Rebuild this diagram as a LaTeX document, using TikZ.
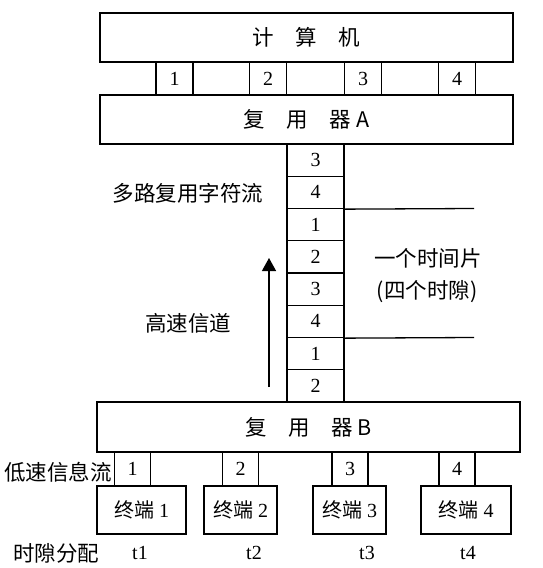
\documentclass[tikz,border=0pt]{standalone}
\usepackage{fontspec}
\setmainfont{Liberation Serif}
\newfontfamily\cjk{Noto Sans CJK SC}
\usetikzlibrary{arrows.meta}
\tikzset{
  box/.style={draw=black, line width=1.3pt, align=center, inner sep=0pt, font=\fontsize{20}{24}\selectfont},
  bigbox/.style={box, font=\cjk\fontsize{21.5}{24}\selectfont},
  slot/.style={draw=black, line width=1.3pt, inner sep=0pt, minimum width=37pt, minimum height=33pt, font=\fontsize{20}{24}\selectfont},
  cell/.style={draw=black, line width=1.3pt, inner sep=0pt, minimum width=57pt, minimum height=32.25pt, font=\fontsize{20}{24}\selectfont},
  lbl/.style={inner sep=0pt, font=\cjk\fontsize{21.5}{24}\selectfont},
  tlbl/.style={inner sep=0pt, font=\fontsize{20}{24}\selectfont},
  arrow/.style={-{Triangle[length=13pt,width=14pt]}, line width=1.3pt},
  rule/.style={line width=1.3pt}
}
\begin{document}
\begin{tikzpicture}[x=1pt,y=-1pt]
\useasboundingbox (0,0) rectangle (543,568);
% computer and multiplexer A
\node[bigbox, minimum width=413pt, minimum height=49pt] (comp) at (306.5,37.5) {计\hspace{1em}算\hspace{1em}机};
\node[slot] (a1) at (174.5,78.5) {1};
\node[slot] (a2) at (268,78.5) {2};
\node[slot] (a3) at (363,78.5) {3};
\node[slot] (a4) at (457,78.5) {4};
\node[bigbox, minimum width=413pt, minimum height=49pt] (muxa) at (306.5,119.5) {复\hspace{1em}用\hspace{1em}器 A};
% multiplexed stream
\foreach \d [count=\i] in {3,4,1,2,3,4,1,2}
  \node[cell] (c\i) at (315.5,{144+32.25*(\i-0.5)}) {\d};
\coordinate (e1) at (474,208.5);
\coordinate (e2) at (474,337.5);
\draw[rule] (c2.south east) -- (e1);
\draw[rule] (c6.south east) -- (e2);
\node[lbl] (mux) at (188,193) {多路复用字符流};
\node[lbl] (slice) at (428,258) {一个时间片};
\node[lbl] (four) at (427,292) {(四个时隙)};
\coordinate (up0) at (269,387);
\coordinate (up1) at (269,258);
\draw[arrow] (up0) -- (up1);
\node[lbl] (fast) at (188,323) {高速信道};
% multiplexer B and terminals
\node[bigbox, minimum width=423pt, minimum height=50pt] (muxb) at (308.5,427) {复\hspace{1em}用\hspace{1em}器 B};
\node[slot, minimum width=36pt, minimum height=34pt] (b1) at (132.5,469) {1};
\node[slot, minimum width=36pt, minimum height=34pt] (b2) at (240.5,469) {2};
\node[slot, minimum width=36pt, minimum height=34pt] (b3) at (350,469) {3};
\node[slot, minimum width=36pt, minimum height=34pt] (b4) at (457,469) {4};
\node[box, minimum width=89pt, minimum height=48pt] (t1) at (141.5,510) {{\cjk 终端} 1};
\node[box, minimum width=73pt, minimum height=48pt] (t2) at (240.5,510) {{\cjk 终端} 2};
\node[box, minimum width=73pt, minimum height=48pt] (t3) at (349.5,510) {{\cjk 终端} 3};
\node[box, minimum width=90pt, minimum height=48pt] (t4) at (466,510) {{\cjk 终端} 4};
\node[lbl] (slow) at (58,472) {低速信息流};
\node[lbl] (alloc) at (56,553) {时隙分配};
\node[tlbl] (s1) at (140,553) {t1};
\node[tlbl] (s2) at (254,553) {t2};
\node[tlbl] (s3) at (367,553) {t3};
\node[tlbl] (s4) at (468,553) {t4};
\end{tikzpicture}
\end{document}
